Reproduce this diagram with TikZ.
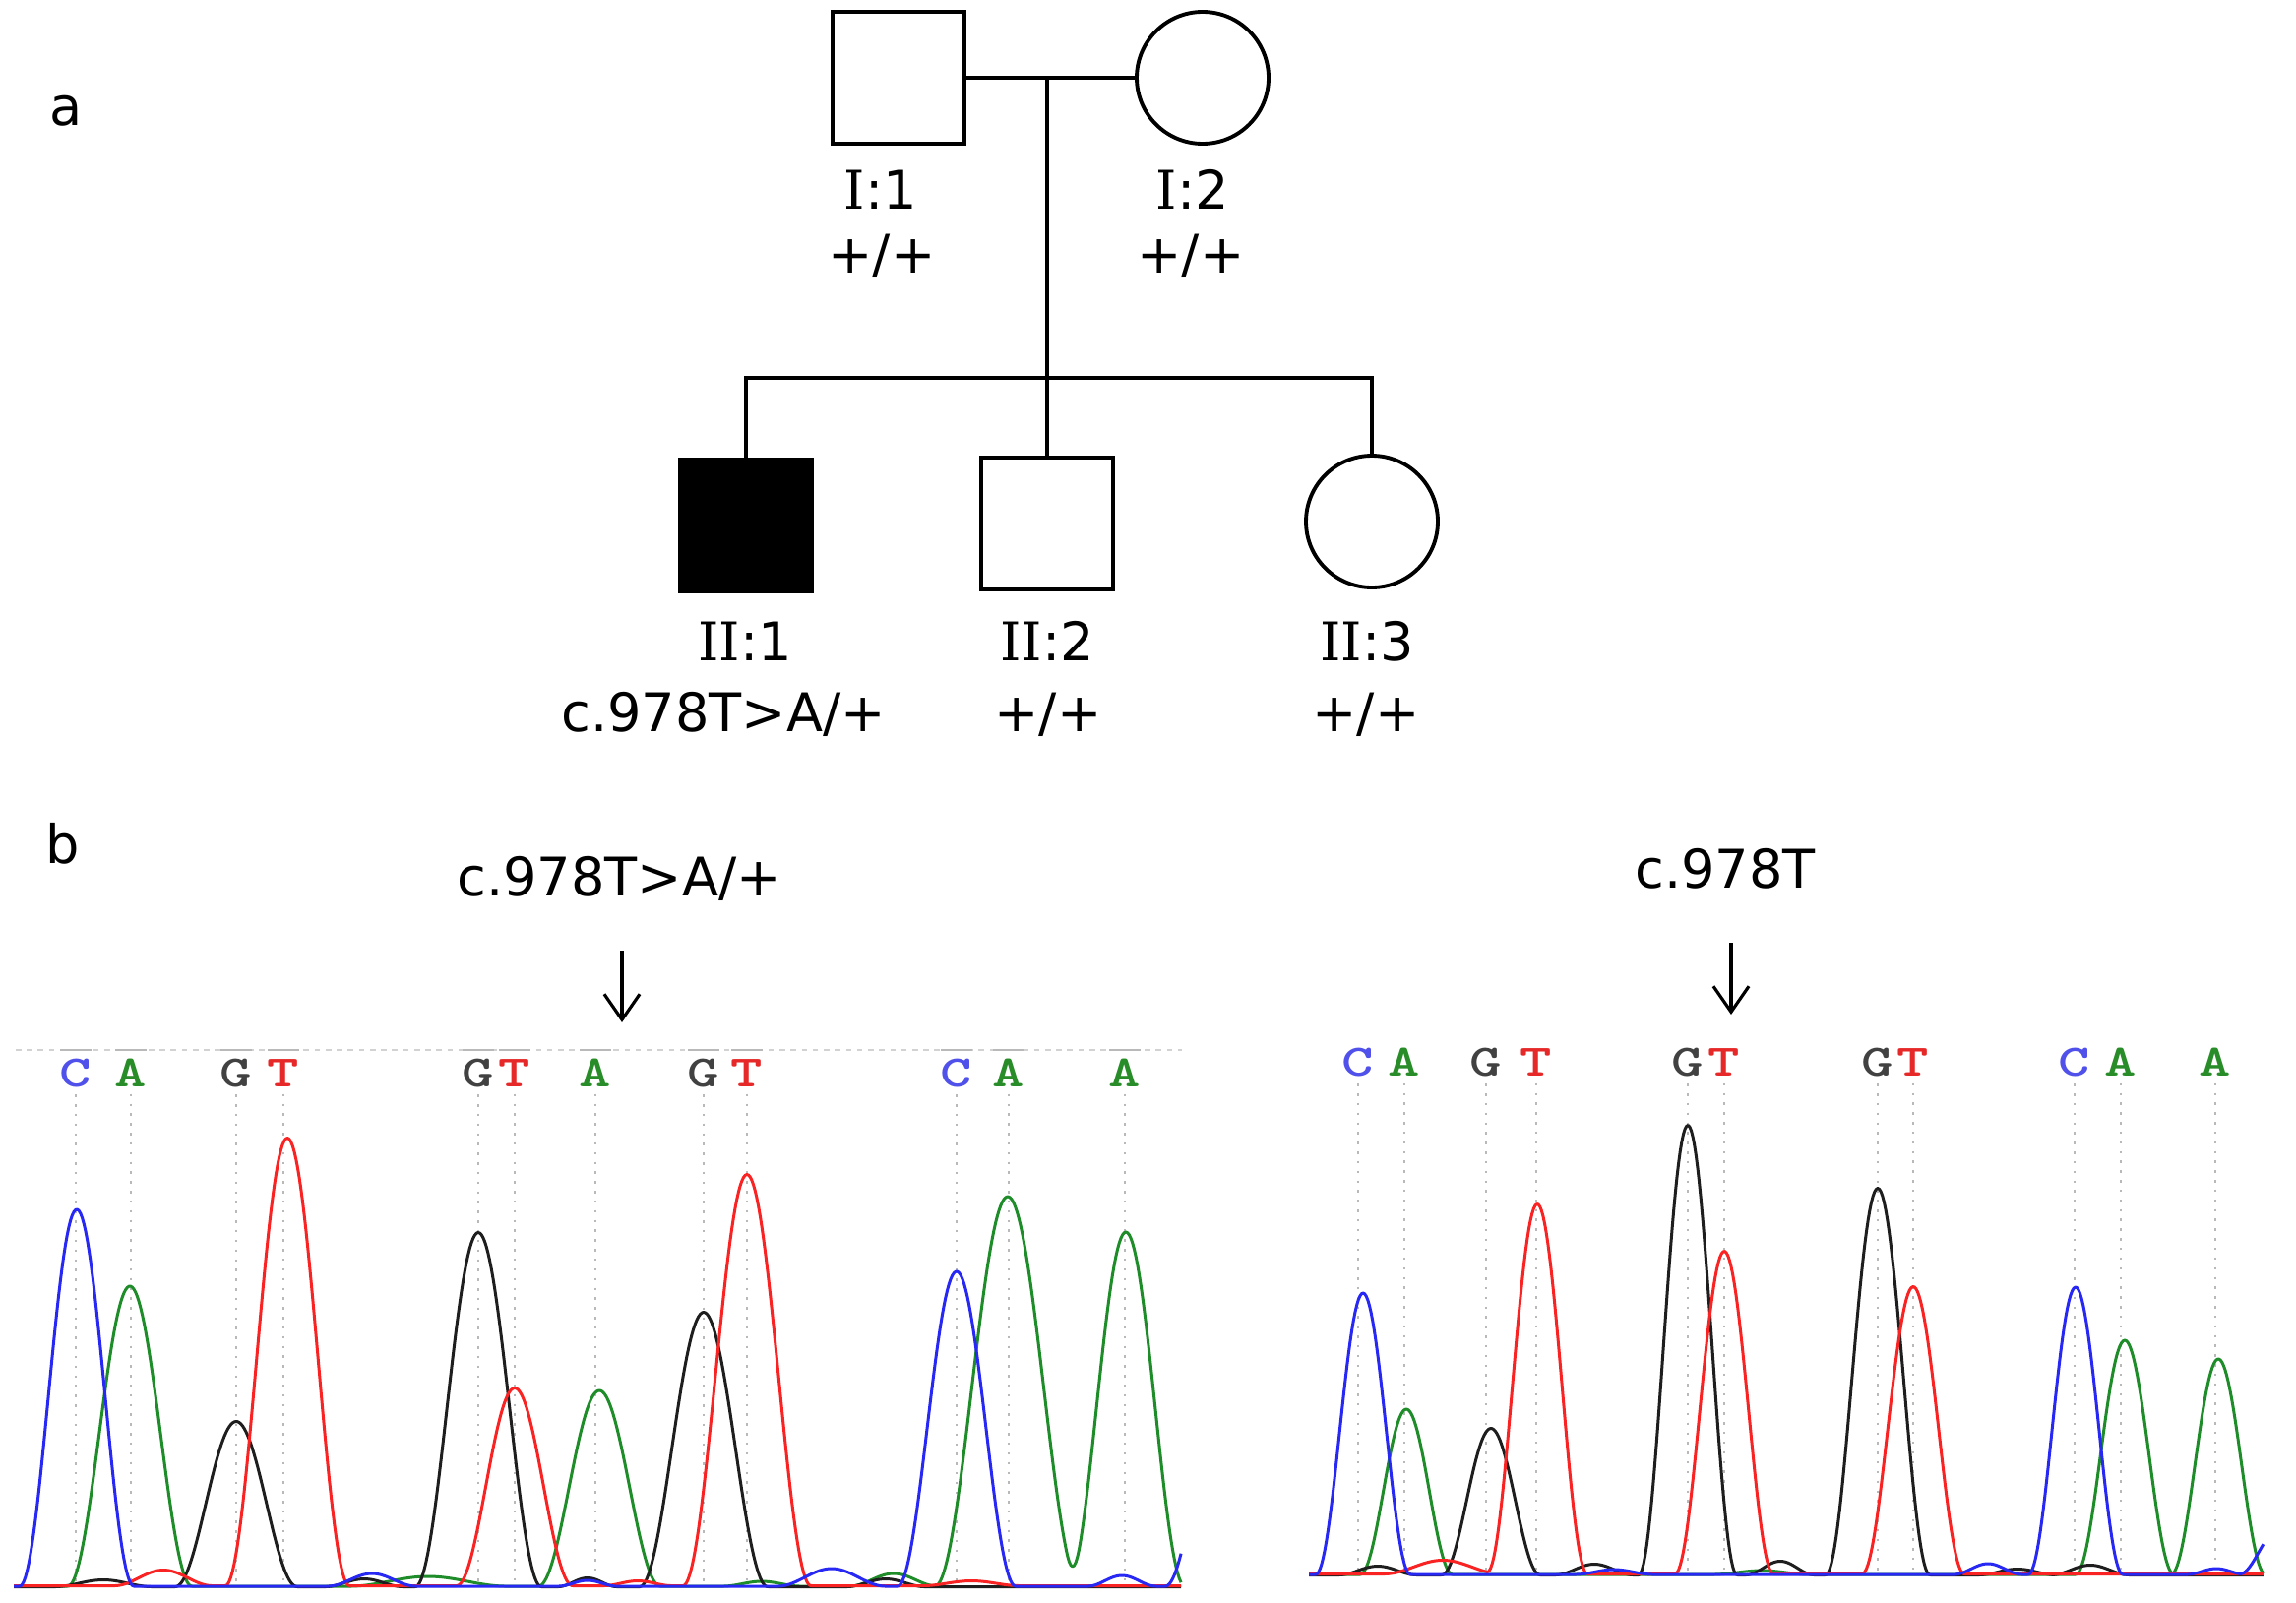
\documentclass[tikz,border=0pt]{standalone}
\usepackage{graphicx}
\usepackage{fontspec}
\setmainfont{DejaVu Sans}
\newfontfamily\seqfont{lmmonolt10-bold.otf}
\newfontfamily\serI{DejaVu Serif}
\usetikzlibrary{arrows.meta,calc}
\definecolor{tblue}{RGB}{40,40,245}
\definecolor{tgreen}{RGB}{30,140,40}
\definecolor{tred}{RGB}{250,35,35}
\definecolor{tblack}{RGB}{30,30,30}
\definecolor{lC}{RGB}{80,80,235}
\definecolor{lA}{RGB}{40,140,40}
\definecolor{lG}{RGB}{65,65,65}
\definecolor{lT}{RGB}{230,40,40}
\newcommand{\seqletter}[1]{\scalebox{1.35}[1]{\seqfont #1}}
\newcommand{\RI}{{\serI I}}
\tikzset{
  declare function={pk(\X,\C,\H,\W)=\H*(0.5+0.5*cos(180*min(abs(\X-\C)/\W,1)));},
  ped/.style={draw=black, line width=1.1pt},
  sqnode/.style={ped, rectangle, minimum size=1.34cm, inner sep=0pt},
  cinode/.style={ped, circle, minimum size=1.34cm, inner sep=0pt},
  lab/.style={anchor=base, inner sep=0pt, font=\fontsize{15.4pt}{18pt}\selectfont},
  trace/.style={line width=0.85pt, line join=round},
  guide/.style={gray!55, line width=0.65pt, dash pattern=on 0.7pt off 2.1pt},
  seqlab/.style={anchor=base, inner sep=0pt, font=\fontsize{13pt}{15pt}\selectfont},
  arr/.style={line width=0.9pt, -{Straight Barb[length=0.26cm, width=0.36cm]}},
}
\begin{document}
\begin{tikzpicture}[x=1cm,y=-1cm]
\fill[white] (0,0) rectangle (23.33,16.28);
\useasboundingbox (0,0) rectangle (23.33,16.28);

% ---------- panel a : pedigree ----------
\node[lab] (pa) at (0.67,1.27) {a};
\node[sqnode] (I1) at (9.13,0.79) {};
\node[cinode] (I2) at (12.22,0.79) {};
\node[sqnode, fill=black] (II1) at (7.58,5.34) {};
\node[sqnode] (II2) at (10.64,5.32) {};
\node[cinode] (II3) at (13.94,5.30) {};

\coordinate (mar) at (10.64,0.79);
\coordinate (sib) at (10.64,3.84);
\draw[ped] (I1.east) -- (I2.west);
\draw[ped] (mar) -- (sib);
\draw[ped] (II1.north) -- (II1 |- sib) -- (II3 |- sib) -- (II3.north);
\draw[ped] (sib) -- (II2.north);

\node[lab] (tI1) at (8.95,2.12) {\RI:1};
\node[lab] (gI1) at (8.96,2.77) {+/+};
\node[lab] (tI2) at (12.12,2.12) {\RI:2};
\node[lab] (gI2) at (12.10,2.77) {+/+};
\node[lab] (tII1) at (7.57,6.71) {\RI\RI:1};
\node[lab] (gII1) at (7.35,7.43) {c.978T>A/+};
\node[lab] (tII2) at (10.64,6.71) {\RI\RI:2};
\node[lab] (gII2) at (10.65,7.43) {+/+};
\node[lab] (tII3) at (13.89,6.71) {\RI\RI:3};
\node[lab] (gII3) at (13.88,7.43) {+/+};

% ---------- panel b : chromatograms ----------
\node[lab] (pb) at (0.64,8.77) {b};
\node[lab] (mut) at (6.29,9.10) {c.978T>A/+};
\node[lab] (wt) at (17.53,9.02) {c.978T};
\coordinate (a1s) at (6.32,9.66);
\coordinate (a1e) at (6.32,10.39);
\coordinate (a2s) at (17.59,9.58);
\coordinate (a2e) at (17.59,10.31);
\draw[arr] (a1s) -- (a1e);
\draw[arr] (a2s) -- (a2e);

\coordinate (lbase) at (0,16.12);
\coordinate (rbase) at (0,16.00);
\coordinate (ltop) at (0,10.67);

% top dashed line of the left trace
\draw[gray!35, line width=0.5pt, dash pattern=on 1.6pt off 1.6pt] (0.16,10.67) -- (12.01,10.67);

% base letters and guide lines, left
\foreach \n/\xx/\ll/\col in {l1/0.77/C/lC, l2/1.33/A/lA, l3/2.40/G/lG, l4/2.88/T/lT,
  l5/4.86/G/lG, l6/5.23/T/lT, l7/6.05/A/lA, l8/7.15/G/lG, l9/7.59/T/lT,
  l10/9.72/C/lC, l11/10.25/A/lA, l12/11.43/A/lA}{
  \node[seqlab, text=\col] (\n) at (\xx,11.04) {\seqletter{\ll}};
  \draw[guide] ([yshift=-0.07cm]\n.south) -- (\n |- lbase);
  \draw[gray!55, line width=0.5pt] ($(\n |- ltop)+(-0.16,0)$) -- ($(\n |- ltop)+(0.16,0)$);
}
% base letters and guide lines, right
\foreach \n/\xx/\ll/\col in {r1/13.80/C/lC, r2/14.27/A/lA, r3/15.10/G/lG, r4/15.61/T/lT,
  r5/17.15/G/lG, r6/17.52/T/lT, r7/19.08/G/lG, r8/19.44/T/lT,
  r9/21.08/C/lC, r10/21.55/A/lA, r11/22.51/A/lA}{
  \node[seqlab, text=\col] (\n) at (\xx,10.93) {\seqletter{\ll}};
  \draw[guide] ([yshift=-0.07cm]\n.south) -- (\n |- rbase);
}

% left traces
\draw[tgreen,trace] plot[domain=0.14:12.01,samples=700] (\x,{16.12-pk(\x,1.32,3.05,0.63)-pk(\x,6.09,1.99,0.62)-pk(\x,10.24,3.96,0.74)-pk(\x,11.44,3.60,0.60)-pk(\x,4.35,0.10,0.8)-pk(\x,7.74,0.05,0.4)-pk(\x,9.08,0.13,0.45)});
\draw[tblack,trace] plot[domain=0.14:12.01,samples=700] (\x,{16.125-pk(\x,2.40,1.68,0.62)-pk(\x,4.86,3.60,0.64)-pk(\x,7.15,2.79,0.65)-pk(\x,1.05,0.07,0.5)-pk(\x,3.70,0.08,0.4)-pk(\x,5.97,0.09,0.3)-pk(\x,9.0,0.08,0.4)});
\draw[tred,trace] plot[domain=0.14:12.01,samples=700] (\x,{16.115-pk(\x,2.92,4.55,0.63)-pk(\x,5.23,2.01,0.59)-pk(\x,7.59,4.18,0.65)-pk(\x,1.66,0.16,0.5)-pk(\x,6.48,0.05,0.35)-pk(\x,9.87,0.05,0.5)});
\draw[tblue,trace] plot[domain=0.14:12.01,samples=700] (\x,{16.12-pk(\x,0.78,3.83,0.58)-pk(\x,9.72,3.20,0.60)-pk(\x,3.78,0.13,0.45)-pk(\x,5.97,0.06,0.3)-pk(\x,8.45,0.18,0.55)-pk(\x,11.40,0.11,0.35)-pk(\x,12.44,2.0,0.6)});

% right traces
\draw[tgreen,trace] plot[domain=13.30:23.00,samples=600] (\x,{16.00-pk(\x,14.29,1.68,0.47)-pk(\x,21.59,2.38,0.50)-pk(\x,22.54,2.19,0.48)-pk(\x,17.9,0.04,0.5)});
\draw[tblack,trace] plot[domain=13.30:23.00,samples=600] (\x,{16.005-pk(\x,15.15,1.49,0.50)-pk(\x,17.15,4.57,0.50)-pk(\x,19.08,3.93,0.53)-pk(\x,14.00,0.09,0.4)-pk(\x,16.20,0.11,0.4)-pk(\x,18.09,0.14,0.35)-pk(\x,20.5,0.06,0.4)-pk(\x,21.24,0.10,0.4)});
\draw[tred,trace] plot[domain=13.30:23.00,samples=600] (\x,{15.995-pk(\x,15.62,3.76,0.51)-pk(\x,17.52,3.28,0.50)-pk(\x,19.44,2.92,0.52)-pk(\x,14.66,0.14,0.6)});
\draw[tblue,trace] plot[domain=13.30:23.00,samples=600] (\x,{16.00-pk(\x,13.85,2.86,0.48)-pk(\x,21.09,2.92,0.48)-pk(\x,16.40,0.05,0.4)-pk(\x,20.20,0.11,0.35)-pk(\x,22.52,0.06,0.3)-pk(\x,23.15,0.45,0.4)});
\end{tikzpicture}
\end{document}
